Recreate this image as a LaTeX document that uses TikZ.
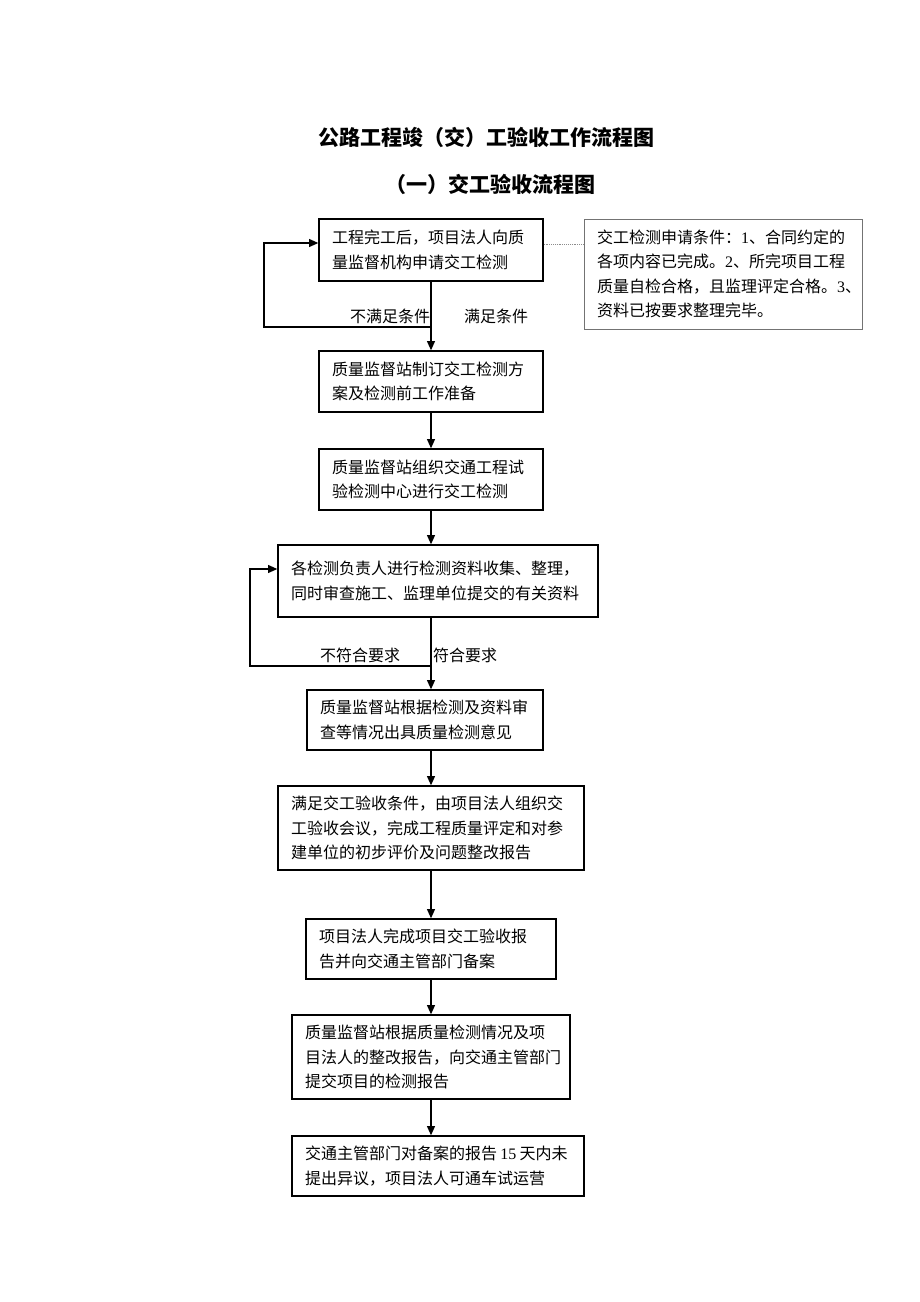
\documentclass[tikz,border=0pt]{standalone}
\usepackage{fontspec}
\setmainfont{Liberation Serif}
\newfontfamily\cjk{Noto Sans CJK SC}
\usepackage{tikz}
\usetikzlibrary{arrows.meta,calc,positioning}

\begin{document}
\begin{tikzpicture}[x=0.75pt,y=-0.75pt]

\tikzset{procbox/.style={draw=black,line width=1pt,inner xsep=9.75pt,inner ysep=0pt,align=left,font=\cjk\fontsize{12}{18.4}\selectfont},
notebox/.style={procbox,draw=black!55,line width=0.6pt},
titletext/.style={font=\cjk\bfseries\fontsize{15.75}{18}\selectfont},
condtext/.style={font=\cjk\fontsize{12}{14}\selectfont,inner sep=0pt},
flowarrow/.style={line width=1pt,-{Triangle[length=7pt,width=6pt]}},
notelink/.style={black!45,line width=0.4pt,densely dotted}}

\useasboundingbox (0,0) rectangle (920,1302);

% Titles
\node[titletext] (title) at (486,137) {公路工程竣（交）工验收工作流程图};
\node[titletext] (subtitle) at (490,184) {（一）交工验收流程图};

% Process boxes
\node[procbox,text width=148.5pt,minimum height=46.5pt] (b1) at (431,250) {工程完工后，项目法人向质\\量监督机构申请交工检测};
\node[notebox,text width=189pt,minimum height=82.5pt] (note) at (723,274) {交工检测申请条件：\textrm{1}、合同约定的\\各项内容已完成。\textrm{2}、所完项目工程\\质量自检合格，且监理评定合格。\textrm{3}、\\资料已按要求整理完毕。};
\node[procbox,text width=148.5pt,minimum height=45.75pt] (b2) at (431,381.5) {质量监督站制订交工检测方\\案及检测前工作准备};
\node[procbox,text width=148.5pt,minimum height=45.75pt] (b3) at (431,479.5) {质量监督站组织交通工程试\\验检测中心进行交工检测};
\node[procbox,text width=220.5pt,minimum height=54pt] (b4) at (438,581) {各检测负责人进行检测资料收集、整理，\\同时审查施工、监理单位提交的有关资料};
\node[procbox,text width=157.5pt,minimum height=45pt] (b5) at (425,720) {质量监督站根据检测及资料审\\查等情况出具质量检测意见};
\node[procbox,text width=210pt,minimum height=63pt] (b6) at (431,828) {满足交工验收条件，由项目法人组织交\\工验收会议，完成工程质量评定和对参\\建单位的初步评价及问题整改报告};
\node[procbox,text width=168pt,minimum height=45pt] (b7) at (431,949) {项目法人完成项目交工验收报\\告并向交通主管部门备案};
\node[procbox,text width=189pt,minimum height=63pt] (b8) at (431,1057) {质量监督站根据质量检测情况及项\\目法人的整改报告，向交通主管部门\\提交项目的检测报告};
\node[procbox,text width=199.5pt,minimum height=45pt] (b9) at (438,1166) {\mbox{交通主管部门对备案的报告\hspace{2.5pt}\textrm{15}\hspace{2.5pt}天内未}\\提出异议，项目法人可通车试运营};

% Condition labels
\node[condtext] (no1) at (390,316) {不满足条件};
\node[condtext] (yes1) at (496,316) {满足条件};
\node[condtext] (no2) at (360,655) {不符合要求};
\node[condtext] (yes2) at (465,655) {符合要求};

% Note link
\draw[notelink] ([yshift=4.5pt]b1.east) -- ([yshift=4.5pt]b1.east -| note.west);

% Main flow
\draw[flowarrow] (b1) -- (b2);
\draw[flowarrow] (b2) -- (b3);
\draw[flowarrow] (b3.south) -- (b3.south |- b4.north);
\draw[flowarrow] (b3.south |- b4.south) -- (b3.south |- b5.north);
\draw[flowarrow] (b3.south |- b5.south) -- (b6.north);
\draw[flowarrow] (b6) -- (b7);
\draw[flowarrow] (b7) -- (b8);
\draw[flowarrow] (b8.south) -- (b8.south |- b9.north);

% Return loops
\coordinate (j1) at (431,327);
\coordinate (l1a) at (264,327);
\coordinate (l1b) at (264,243);
\draw[flowarrow] (j1) -- (l1a) -- (l1b) -- (l1b -| b1.west);
\coordinate (j2) at (431,666);
\coordinate (l2a) at (250,666);
\coordinate (l2b) at (250,569);
\draw[flowarrow] (j2) -- (l2a) -- (l2b) -- (l2b -| b4.west);

\end{tikzpicture}
\end{document}
